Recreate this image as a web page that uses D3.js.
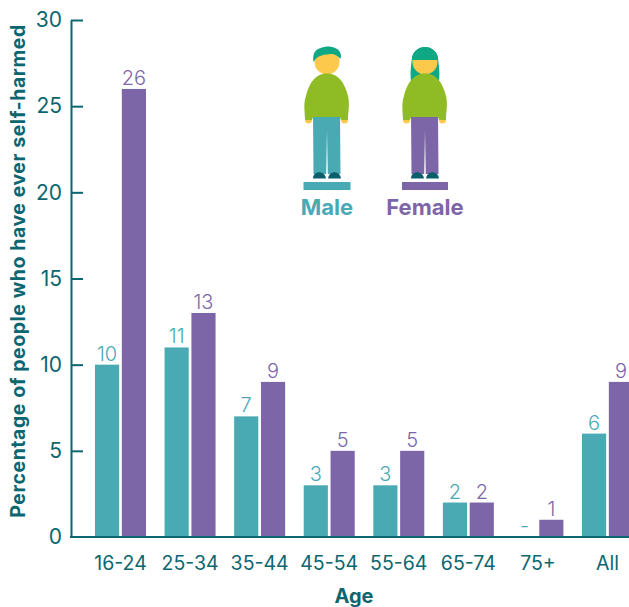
<!DOCTYPE html>
<html>
<head>
<meta charset="utf-8">
<script src="https://cdn.jsdelivr.net/npm/d3@7"></script>
<style>
  html, body { margin: 0; padding: 0; background: #fff; }
  svg { display: block; font-family: Inter, sans-serif; }
</style>
</head>
<body>
<svg id="chart" width="629" height="607"></svg>
<script>
const ages = ["16-24", "25-34", "35-44", "45-54", "55-64", "65-74", "75+", "All"];
const maleValues = [10, 11, 7, 3, 3, 2, null, 6];
const femaleValues = [26, 13, 9, 5, 5, 2, 1, 9];
const yTicks = [0, 5, 10, 15, 20, 25, 30];

const teal = "#4aaab4";
const purple = "#7d66a8";
const dark = "#0b6670";
const green = "#8fbc24";
const hairGreen = "#0fa884";
const skin = "#fdc94d";
const shoe = "#0a5f6c";

const width = 629, height = 607;
const svg = d3.select("#chart");

const x = d3.scaleBand().domain(ages).range([95, 633]).paddingInner(0.267);
const sub = d3.scaleBand().domain(["male", "female"]).range([0, x.bandwidth()]).paddingInner(0.1);
const y = d3.scaleLinear().domain([0, 30]).range([537, 20]);

const series = [
  { key: "male", color: teal, values: maleValues },
  { key: "female", color: purple, values: femaleValues }
];

// bars and value labels
series.forEach(s => {
  const rows = ages.map((age, i) => ({ age, value: s.values[i] }));

  svg.append("g").selectAll("rect")
    .data(rows.filter(d => d.value !== null))
    .join("rect")
    .attr("x", d => x(d.age) + sub(s.key))
    .attr("y", d => y(d.value))
    .attr("width", sub.bandwidth())
    .attr("height", d => y(0) - y(d.value))
    .attr("fill", s.color);

  svg.append("g").selectAll("text")
    .data(rows)
    .join("text")
    .attr("x", d => x(d.age) + sub(s.key) + sub.bandwidth() / 2)
    .attr("y", d => y(d.value === null ? 0 : d.value) - 4)
    .attr("text-anchor", "middle")
    .attr("font-size", 20)
    .attr("font-weight", 300)
    .attr("fill", s.color)
    .text(d => d.value === null ? "-" : d.value);
});

// axes
const yAxis = svg.append("g")
  .attr("transform", "translate(71,0)")
  .call(d3.axisLeft(y).tickValues(yTicks).tickSizeInner(-12).tickSizeOuter(0).tickPadding(9));
yAxis.select(".domain").attr("stroke", dark).attr("stroke-width", 2);
yAxis.selectAll("line").attr("stroke", dark).attr("stroke-width", 2);
yAxis.selectAll("text").attr("fill", dark).attr("font-size", 21).attr("font-weight", 400).attr("font-family", "Inter, sans-serif");
yAxis.selectAll(".tick").filter(d => d === 0).select("line").remove();

const xAxis = svg.append("g")
  .attr("transform", `translate(0,${y(0)})`)
  .call(d3.axisBottom(x).tickSize(0).tickPadding(19));
xAxis.select(".domain").remove();
xAxis.selectAll("text").attr("fill", dark).attr("font-size", 19.5).attr("font-weight", 400).attr("font-family", "Inter, sans-serif");

svg.append("line")
  .attr("x1", 70).attr("x2", width)
  .attr("y1", y(0)).attr("y2", y(0))
  .attr("stroke", dark).attr("stroke-width", 2);

svg.append("text")
  .attr("transform", "translate(25,271) rotate(-90)")
  .attr("text-anchor", "middle")
  .attr("font-size", 19.5)
  .attr("font-weight", 700)
  .attr("letter-spacing", 0.55)
  .attr("fill", dark)
  .text("Percentage of people who have ever self-harmed");

svg.append("text")
  .attr("x", 354).attr("y", 603)
  .attr("text-anchor", "middle")
  .attr("font-size", 20)
  .attr("font-weight", 700)
  .attr("fill", dark)
  .text("Age");

// the two little people above the legend labels
function person(cx, color, longHair) {
  const g = svg.append("g").attr("transform", `translate(${cx},0)`);
  if (longHair) {
    g.append("path").attr("fill", hairGreen)
      .attr("d", "M-14,81 C-15,72 -14,66 -13,58 C-12,51 -6,47 0,47 C6,47 12,51 13,58 C14,66 15,72 14,81 Z");
  }
  g.append("circle").attr("cx", 0).attr("cy", 62).attr("r", 12.5).attr("fill", skin);
  if (longHair) {
    g.append("path").attr("fill", hairGreen)
      .attr("d", "M-13,60 C-13,51 -6,47 0,47 C6,47 13,51 13,60 Z");
  } else {
    g.append("path").attr("fill", hairGreen)
      .attr("d", "M-13.5,62 C-15,53 -11,49 -6,48 C-2,46 4,46 8,48 C13,50 15,54 13.5,59 C11,56 8,54 4,54 C-2,55 -9,54 -13.5,62 Z");
  }
  // hands
  g.append("circle").attr("cx", -18.5).attr("cy", 120).attr("r", 3.5).attr("fill", skin);
  g.append("circle").attr("cx", 17.5).attr("cy", 120).attr("r", 3.5).attr("fill", skin);
  // trousers
  g.append("path").attr("fill", color)
    .attr("d", "M-14,115 L13,115 L13.5,174 L0.8,174 L0,130 L-0.8,174 L-13.5,174 Z");
  // shoes
  g.append("path").attr("fill", shoe).attr("d", "M-14,178.5 C-14,170 -2,170 -1,178.5 Z");
  g.append("path").attr("fill", shoe).attr("d", "M1,178.5 C2,170 13,170 14,178.5 Z");
  // jumper
  g.append("path").attr("fill", green)
    .attr("d", "M0,73.5 C12,73.5 18,84 21,96 C23,104 21,112 21,120 L14,120 L13,117 L-14,117 L-15,120 L-22,120 C-22,112 -24,104 -21,96 C-18,84 -12,73.5 0,73.5 Z");
}
person(327, teal, false);
person(425, purple, true);

const legend = [
  { label: "Male", color: teal, cx: 327, w: 47 },
  { label: "Female", color: purple, cx: 425, w: 46 }
];
legend.forEach(d => {
  svg.append("rect")
    .attr("x", d.cx - d.w / 2).attr("y", 182)
    .attr("width", d.w).attr("height", 8)
    .attr("fill", d.color);
  svg.append("text")
    .attr("x", d.cx).attr("y", 215)
    .attr("text-anchor", "middle")
    .attr("font-size", 22)
    .attr("font-weight", 700)
    .attr("fill", d.color)
    .text(d.label);
});
</script>
</body>
</html>
